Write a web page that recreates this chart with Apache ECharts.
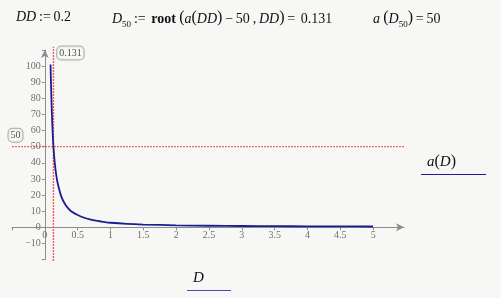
<!DOCTYPE html>
<html><head><meta charset="utf-8">
<script src="https://cdn.jsdelivr.net/npm/echarts@6/dist/echarts.min.js"></script>
<style>html,body{margin:0;padding:0;background:#f7f8f6;}#c{width:501px;height:298px;}</style>
</head><body><div id="c"></div>
<script>
// Data
var D = [0.087,0.1,0.11,0.12,0.131,0.15,0.175,0.2,0.25,0.3,0.35,0.4,0.5,0.6,0.7,0.8,0.9,1,1.25,1.5,2,2.5,3,3.5,4,4.5,5];
var A = [101,80,68,58,50,40.5,32,26.5,19.2,14.9,12,10,7.6,5.9,4.8,3.9,3.3,2.8,2.1,1.7,1.2,0.95,0.8,0.68,0.6,0.53,0.48];
var D50 = 0.131;
var A50 = 50;
var xMin = -0.5, xMax = 5.47, yMin = -20, yMax = 110;

var gridL = 12, gridR = 97, gridT = 50, gridB = 38.5;
var W = 501, H = 298;
var gw = W - gridL - gridR, gh = H - gridT - gridB;
// place axes through zero (labels move with them)
var xOff = -gh * (0 - yMin) / (yMax - yMin);
var yOff = -gw * (0 - xMin) / (xMax - xMin);

var serif = "'Liberation Serif','DejaVu Serif',serif";
var chart = echarts.init(document.getElementById('c'), null, {renderer:'canvas'});
var curve = D.map(function(d,i){return [d, A[i]];});
var red = '#e8474c';
var fmtY = function(v){ if (v<=yMin || v>=yMax) return ''; return v<0 ? '\u2212'+(-v) : String(v); };
var fmtX = function(v){ if (v<=xMin || v>=xMax) return ''; return String(v); };
var boxLabel = {show:true, position:'inside', fontFamily:serif, fontSize:10, color:'#222',
  backgroundColor:'#f7f8f6', borderColor:'#999', borderWidth:1, borderRadius:4, padding:[2,2,1,2]};
chart.setOption({
  backgroundColor:'#f7f8f6',
  animation:false,
  grid:{left:gridL, right:gridR, top:gridT, bottom:gridB, containLabel:false, outerBoundsMode:'none'},
  xAxis:{type:'value', min:xMin, max:xMax, interval:0.5, position:'bottom', offset:xOff,
    axisLine:{onZero:false, lineStyle:{color:'#8c8c8c', width:1}, symbol:['none','arrow'], symbolSize:[6,8]},
    axisTick:{show:true, length:3, lineStyle:{color:'#8c8c8c'}},
    axisLabel:{formatter:fmtX, color:'#6e6e6e', fontFamily:serif, fontSize:10, margin:3.5, showMaxLabel:false},
    splitLine:{show:false}},
  yAxis:{type:'value', min:yMin, max:yMax, interval:10, position:'left', offset:yOff,
    axisLine:{onZero:false, lineStyle:{color:'#8c8c8c', width:1}, symbol:['none','arrow'], symbolSize:[6,8]},
    axisTick:{show:true, length:3, lineStyle:{color:'#8c8c8c'}},
    axisLabel:{formatter:fmtY, color:'#6e6e6e', fontFamily:serif, fontSize:10, margin:4},
    splitLine:{show:false}},
  series:[
    {type:'line', data:[[D50,yMin-1],[D50,yMax+2]], showSymbol:false, symbol:'none', silent:true,
      lineStyle:{color:'#ee5a5e', width:1.4, type:[2,1]}, clip:false, z:1},
    {type:'line', data:[[xMin,A50],[xMax+0.03,A50]], showSymbol:false, symbol:'none', silent:true,
      lineStyle:{color:red, width:1, type:[2,1]}, clip:false, z:1},
    {type:'line', data:curve, showSymbol:false, symbol:'none', smooth:0.3,
      lineStyle:{color:'#1d1d92', width:1.8}, z:3},
    {type:'scatter', data:[[D50,yMax]], symbolSize:0, clip:false,
      label:Object.assign({}, boxLabel, {formatter:String(D50), offset:[17,3]}), z:5},
    {type:'scatter', data:[[xMin,A50]], symbolSize:0, clip:false,
      label:Object.assign({}, boxLabel, {formatter:String(A50), offset:[3.5,-11.5]}), z:5}
  ],
  graphic:[
    {type:'text', left:16, top:10, style:{
      text:'{i|DD}{n|\u2009:=\u20090.2}', rich:{
        i:{fontFamily:serif, fontStyle:'italic', fontSize:14, fill:'#111'},
        n:{fontFamily:serif, fontSize:14, fill:'#111'}}}},
    {type:'text', left:112, top:10, style:{
      text:'{i|D}{s|50}{n|\u2009:=\u2009\u2009}{b|root}{p|\u2009(}{i|a}{p|(}{i|DD}{p|)}{n|\u2009\u2212\u200950\u2009,\u2009}{i|DD}{p|)}{n|\u2009=\u2009\u20090.131}',
      rich:{
        i:{fontFamily:serif, fontStyle:'italic', fontSize:14, fill:'#111', verticalAlign:'bottom'},
        s:{fontFamily:serif, fontSize:9, fill:'#111', verticalAlign:'bottom', padding:[0,0,-3,0]},
        n:{fontFamily:serif, fontSize:14, fill:'#111', verticalAlign:'bottom'},
        b:{fontFamily:serif, fontWeight:'bold', fontSize:14, fill:'#111', verticalAlign:'bottom'},
        p:{fontFamily:serif, fontSize:16, fill:'#111', verticalAlign:'bottom'}}}},
    {type:'text', left:373, top:10, style:{
      text:'{i|a}{p|\u2009(}{i|D}{s|50}{p|)}{n|\u2009=\u200950}',
      rich:{
        i:{fontFamily:serif, fontStyle:'italic', fontSize:14, fill:'#111', verticalAlign:'bottom'},
        s:{fontFamily:serif, fontSize:9, fill:'#111', verticalAlign:'bottom', padding:[0,0,-3,0]},
        n:{fontFamily:serif, fontSize:14, fill:'#111', verticalAlign:'bottom'},
        p:{fontFamily:serif, fontSize:16, fill:'#111', verticalAlign:'bottom'}}}},
    {type:'text', left:427, top:154, style:{
      text:'{i|a}{p|(}{i|D}{p|)}', rich:{
        i:{fontFamily:serif, fontStyle:'italic', fontSize:15, fill:'#111', verticalAlign:'bottom'},
        p:{fontFamily:serif, fontSize:16, fill:'#111', verticalAlign:'bottom'}}}},
    {type:'line', shape:{x1:421, y1:174.5, x2:486, y2:174.5}, style:{stroke:'#1d1d92', lineWidth:1.2}},
    {type:'text', left:193, top:271, style:{text:'D', fontFamily:serif, fontStyle:'italic', fontSize:15, fill:'#111'}},
    {type:'line', shape:{x1:187, y1:290.5, x2:231, y2:290.5}, style:{stroke:'#4a4ab8', lineWidth:1.2}}
  ]
});
</script></body></html>
